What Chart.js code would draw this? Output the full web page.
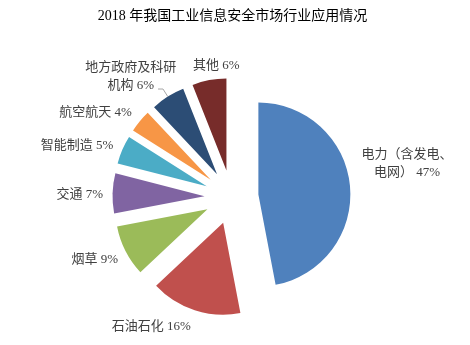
<!DOCTYPE html>
<html>
<head>
<meta charset="utf-8">
<script src="https://cdn.jsdelivr.net/npm/chart.js@4"></script>
<style>
  html, body { margin: 0; padding: 0; background: #ffffff; }
  canvas { display: block; }
</style>
</head>
<body>
<canvas id="chart" width="470" height="345"></canvas>
<script>
const chartTitle = '2018 年我国工业信息安全市场行业应用情况';
const categories = ['电力（含发电、电网）', '石油石化', '烟草', '交通', '智能制造', '航空航天', '地方政府及科研机构', '其他'];
const shares = [47, 16, 9, 7, 5, 4, 6, 6];
const sliceColors = ['#4F81BD', '#C0504D', '#9BBB59', '#8064A2', '#4BACC6', '#F79646', '#2C4D75', '#772C2A'];
// character index where a long category name wraps onto a second line (0 = no wrap)
const wrapAt = [7, 0, 0, 0, 0, 0, 7, 0];
// label offset from the slice's outer tip: [dx, dy, textAlign]
const labelNudge = [
  [57, -22, 'center'],
  [-4, 16, 'right'],
  [-7.5, 9, 'right'],
  [-9.5, 1, 'right'],
  [-9, -4, 'right'],
  [-8, -9, 'right'],
  [-37, -19.5, 'center'],
  [7, -15, 'center']
];
const hasLeader = [false, false, false, false, false, false, true, false];

const RADIUS = 92;      // pie radius in px
const EXPLODE = 27;     // how far each slice is pulled out from the centre
const LINE_H = 18;
const titleFont = '14px "Liberation Serif", "Noto Sans CJK SC"';
const labelFont = '13px "Liberation Serif", "Noto Sans CJK SC"';

// Pull every slice outward along its bisector
const explodeSlices = {
  id: 'explodeSlices',
  afterDatasetUpdate(chart, args) {
    args.meta.data.forEach(arc => {
      const mid = (arc.startAngle + arc.endAngle) / 2;
      arc.x += EXPLODE * Math.cos(mid);
      arc.y += EXPLODE * Math.sin(mid);
    });
  }
};

// Title and category labels
const sliceLabels = {
  id: 'sliceLabels',
  afterDraw(chart) {
    const ctx = chart.ctx;
    const arcs = chart.getDatasetMeta(0).data;
    ctx.save();
    ctx.textBaseline = 'middle';
    ctx.font = titleFont;
    ctx.fillStyle = '#000000';
    ctx.textAlign = 'center';
    ctx.fillText(chartTitle, 232.5, 16);

    ctx.font = labelFont;
    ctx.fillStyle = '#404040';
    arcs.forEach((arc, i) => {
      const mid = (arc.startAngle + arc.endAngle) / 2;
      const tipX = arc.x + arc.outerRadius * Math.cos(mid);
      const tipY = arc.y + arc.outerRadius * Math.sin(mid);
      const [dx, dy, align] = labelNudge[i];
      const name = categories[i];
      const value = shares[i] + '%';
      const lines = wrapAt[i]
        ? [name.slice(0, wrapAt[i]), name.slice(wrapAt[i]) + ' ' + value]
        : [name + ' ' + value];
      const x = tipX + dx;
      const y0 = tipY + dy - (lines.length - 1) * LINE_H / 2;
      ctx.textAlign = align;
      lines.forEach((line, k) => ctx.fillText(line, x, y0 + k * LINE_H));

      if (hasLeader[i]) {
        const last = lines[lines.length - 1];
        const w = ctx.measureText(last).width;
        const right = align === 'center' ? x + w / 2 : (align === 'right' ? x : x + w);
        const ly = y0 + (lines.length - 1) * LINE_H + 3;
        ctx.beginPath();
        ctx.moveTo(right + 4, ly);
        ctx.lineTo(right + 9, ly);
        ctx.lineTo(tipX, tipY);
        ctx.strokeStyle = '#A6A6A6';
        ctx.lineWidth = 1;
        ctx.stroke();
      }
    });
    ctx.restore();
  }
};

new Chart(document.getElementById('chart'), {
  type: 'pie',
  data: {
    labels: categories,
    datasets: [{
      data: shares,
      backgroundColor: sliceColors,
      borderWidth: 0,
      hoverOffset: 0,
      clip: false
    }]
  },
  options: {
    responsive: false,
    animation: false,
    devicePixelRatio: 1,
    radius: RADIUS,
    events: [],
    layout: { padding: { left: 131, right: 138, top: 97, bottom: 48 } },
    plugins: {
      legend: { display: false },
      tooltip: { enabled: false },
      title: { display: false }
    }
  },
  plugins: [explodeSlices, sliceLabels]
});
</script>
</body>
</html>
